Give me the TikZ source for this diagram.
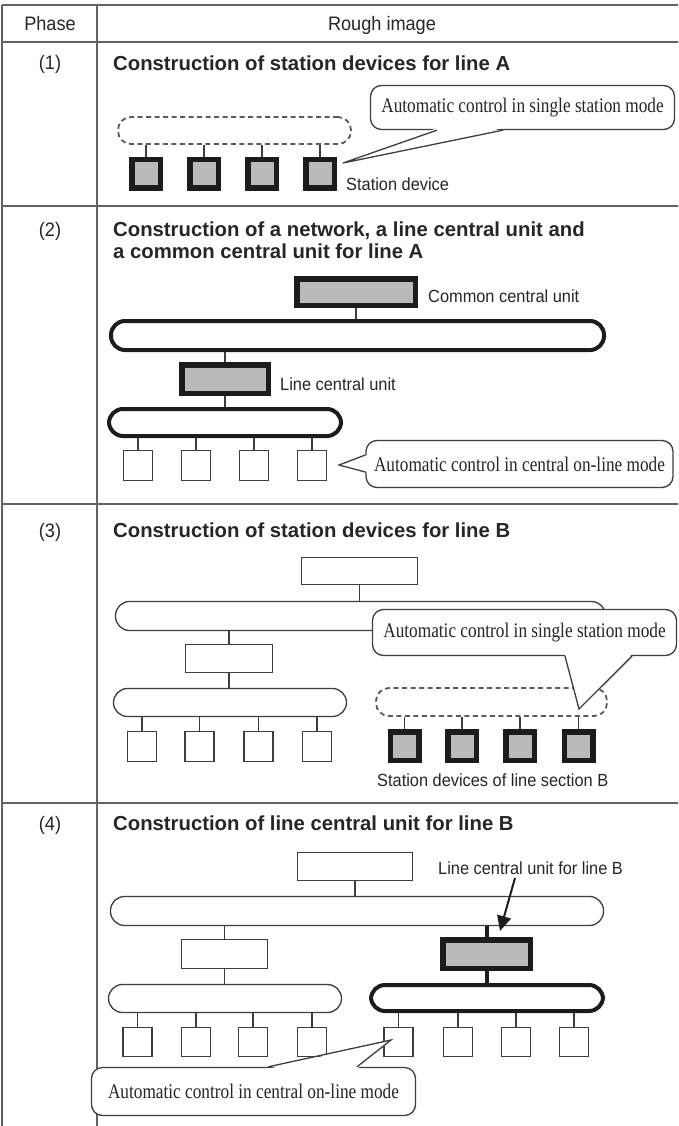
\documentclass[tikz,border=0pt]{standalone}
\usepackage{fontspec}
\setmainfont{Liberation Sans}
\newfontfamily\calloutfont[FakeStretch=0.83]{Liberation Serif}
\newfontfamily\narrowsans[FakeStretch=0.93]{Liberation Sans}
\usetikzlibrary{calc,arrows.meta,backgrounds}

\definecolor{rulegray}{HTML}{626262}
\definecolor{wiregray}{HTML}{3E3E3E}
\definecolor{heavy}{HTML}{1C1C1C}
\definecolor{unitfill}{HTML}{BABABA}
\definecolor{inkgray}{HTML}{262626}
\definecolor{dashgray}{HTML}{5A5A5A}

\tikzset{
  rule/.style={draw=rulegray, line width=1.8pt},
  wire/.style={draw=wiregray, line width=1.4pt},
  heavywire/.style={draw=heavy, line width=4pt},
  plainbox/.style={draw=wiregray, line width=1.3pt, fill=white, inner sep=0pt},
  thickunit/.style={draw=heavy, line width=5.5pt, fill=unitfill, inner sep=0pt},
  station/.style={thickunit, minimum width=28.5pt, minimum height=28.5pt},
  thinbus/.style={plainbox, rounded corners=14pt},
  heavybus/.style={draw=heavy, line width=4pt, fill=white, rounded corners=14pt, inner sep=0pt},
  dashbus/.style={draw=dashgray, line width=1.8pt, dash pattern=on 5pt off 3.5pt, rounded corners=13pt, inner sep=0pt},
  callout/.style={draw=wiregray, line width=1.3pt, fill=white, rounded corners=11pt, inner sep=0pt,
    font=\calloutfont\fontsize{20.8}{22}\selectfont, text=inkgray},
  headtext/.style={font=\narrowsans\fontsize{19.5}{21}\selectfont, text=inkgray, inner sep=0pt},
  titletext/.style={font=\bfseries\fontsize{20.3}{22}\selectfont, text=inkgray, inner sep=0pt, anchor=base west},
  lbltext/.style={font=\narrowsans\fontsize{17.6}{19}\selectfont, text=inkgray, inner sep=0pt, anchor=base west}
}

\begin{document}
\begin{tikzpicture}[x=1pt,y=-1pt]
\useasboundingbox (0,0) rectangle (678,1126);

% ---------- table frame ----------
\draw[rule] (2,5) -- (678,5);
\draw[rule] (2,42) -- (678,42);
\draw[rule] (2,206) -- (678,206);
\draw[rule] (2,504) -- (678,504);
\draw[rule] (2,803) -- (678,803);
\draw[rule] (2,5) -- (2,1126);
\draw[rule] (97,5) -- (97,1126);

\node[headtext, anchor=base] (hphase) at (50,31) {Phase};
\node[headtext, anchor=base] (himage) at (382,31) {Rough image};

\node[headtext, anchor=base] (p1) at (50,70) {(1)};
\node[headtext, anchor=base] (p2) at (50,236) {(2)};
\node[headtext, anchor=base] (p3) at (50,537) {(3)};
\node[headtext, anchor=base] (p4) at (50,830) {(4)};

\node[titletext] (t1) at (113,70.3) {Construction of station devices for line A};
\node[titletext] (t2a) at (113,236.3) {Construction of a network, a line central unit and};
\node[titletext] (t2b) at (113,258.3) {a common central unit for line A};
\node[titletext] (t3) at (113,537.3) {Construction of station devices for line B};
\node[titletext] (t4) at (113,830.3) {Construction of line central unit for line B};

% ---------- phase (1) ----------
\node[dashbus, minimum width=233pt, minimum height=27pt] (dbA) at (234.5,130.5) {};
\foreach \i/\x in {1/146,2/204,3/262,4/320}
  \node[station] (sa\i) at (\x,174) {};
\begin{scope}[on background layer]
  \foreach \i in {1,...,4}
    \draw[wire] (sa\i.north) -- (sa\i.north |- dbA.south);
\end{scope}
\node[lbltext] (lsa) at (346,190) {Station device};

\node[callout, minimum width=304pt, minimum height=44pt] (co1) at (522.5,107.5)
  {Automatic control in single station mode};
\coordinate (co1tip) at (343,163);
\coordinate (co1a) at ($(co1.south)+(-85.5,0)$);
\coordinate (co1b) at ($(co1.south)+(-19.5,0)$);
\fill[white] ($(co1a)+(0,-2)$) -- (co1tip) -- ($(co1b)+(0,-2)$) -- cycle;
\draw[wire, line width=1.3pt, line join=miter] (co1a) -- (co1tip) -- (co1b);

% ---------- phase (2) ----------
\node[thickunit, minimum width=118.5pt, minimum height=26.5pt] (cu2) at (356,292) {};
\node[heavybus, minimum width=493pt, minimum height=29pt] (bus2) at (357.5,335.5) {};
\node[thickunit, minimum width=86.5pt, minimum height=28.5pt] (lcu2) at (225,379) {};
\node[heavybus, minimum width=232pt, minimum height=27pt] (sbus2) at (225,422.5) {};
\foreach \i/\x in {1/138,2/196,3/254,4/312}
  \node[plainbox, minimum width=28.7pt, minimum height=29.7pt] (b2\i) at (\x,465.5) {};
\begin{scope}[on background layer]
  \draw[wire] (cu2.south) -- (cu2.south |- bus2.north);
  \draw[wire] (lcu2.north) -- (lcu2.north |- bus2.south);
  \draw[wire] (lcu2.south) -- (lcu2.south |- sbus2.north);
  \foreach \i in {1,...,4}
    \draw[wire] (b2\i.north) -- (b2\i.north |- sbus2.south);
\end{scope}
\node[lbltext] (lcu2t) at (428,302) {Common central unit};
\node[lbltext] (llc2t) at (280,390) {Line central unit};

\node[callout, minimum width=307pt, minimum height=47pt] (co2) at (519.5,464)
  {Automatic control in central on-line mode};
\coordinate (co2tip) at (339,465);
\coordinate (co2a) at ($(co2.west)+(0,-9)$);
\coordinate (co2b) at ($(co2.west)+(0,8)$);
\fill[white] ($(co2a)+(2,0)$) -- (co2tip) -- ($(co2b)+(2,0)$) -- cycle;
\draw[wire, line width=1.3pt, line join=miter] (co2a) -- (co2tip) -- (co2b);

% ---------- phase (3) ----------
\node[plainbox, minimum width=116pt, minimum height=27pt] (cu3) at (359.5,571) {};
\node[thinbus, minimum width=490pt, minimum height=29pt] (bus3) at (360.5,616) {};
\node[plainbox, minimum width=87pt, minimum height=28pt] (lcu3) at (229,658.5) {};
\node[thinbus, minimum width=233pt, minimum height=28pt] (sbus3) at (230,702.5) {};
\foreach \i/\x in {1/142,2/199.5,3/258.5,4/317}
  \node[plainbox, minimum width=29pt, minimum height=30pt] (b3\i) at (\x,746.5) {};
\node[dashbus, minimum width=231pt, minimum height=28pt] (dbB) at (491.5,702) {};
\foreach \i/\x in {1/404.5,2/462,3/520,4/578.5}
  \node[station] (sb\i) at (\x,746) {};
\begin{scope}[on background layer]
  \draw[wire] (cu3.south) -- (cu3.south |- bus3.north);
  \draw[wire] (lcu3.north) -- (lcu3.north |- bus3.south);
  \draw[wire] (lcu3.south) -- (lcu3.south |- sbus3.north);
  \foreach \i in {1,...,4}
    \draw[wire] (b3\i.north) -- (b3\i.north |- sbus3.south);
  \foreach \i in {1,...,4}
    \draw[wire] (sb\i.north) -- (sb\i.north |- dbB.south);
\end{scope}
\node[lbltext] (lsb) at (377,786) {Station devices of line section B};

\node[callout, minimum width=304pt, minimum height=46pt] (co3) at (524.5,632.5)
  {Automatic control in single station mode};
\coordinate (co3tip) at (579,709);
\coordinate (co3a) at ($(co3.south)+(40.5,0)$);
\coordinate (co3b) at ($(co3.south)+(107.5,0)$);
\fill[white] ($(co3a)+(0,-2)$) -- (co3tip) -- ($(co3b)+(0,-2)$) -- cycle;
\draw[wire, line width=1.3pt, line join=miter] (co3a) -- (co3tip) -- (co3b);

% ---------- phase (4) ----------
\node[plainbox, minimum width=115pt, minimum height=28pt] (cu4) at (355,866.5) {};
\node[thinbus, minimum width=493pt, minimum height=29pt] (bus4) at (357,911) {};
\node[plainbox, minimum width=86pt, minimum height=29pt] (lcu4) at (224.5,954) {};
\node[thinbus, minimum width=233pt, minimum height=28pt] (sbus4) at (225,998.5) {};
\foreach \i/\x in {1/137.5,2/196,3/253,4/312}
  \node[plainbox, minimum width=29pt, minimum height=29pt] (b4\i) at (\x,1042) {};
\node[thickunit, minimum width=87.5pt, minimum height=28.5pt] (lcuB) at (486.5,954) {};
\node[heavybus, minimum width=232pt, minimum height=26pt] (sbusB) at (487,998) {};
\foreach \i/\x in {5/398.5,6/458,7/516,8/574}
  \node[plainbox, minimum width=29pt, minimum height=29pt] (b4\i) at (\x,1042) {};
\begin{scope}[on background layer]
  \draw[wire] (cu4.south) -- (cu4.south |- bus4.north);
  \draw[wire] (lcu4.north) -- (lcu4.north |- bus4.south);
  \draw[wire] (lcu4.south) -- (lcu4.south |- sbus4.north);
  \foreach \i in {1,...,4}
    \draw[wire] (b4\i.north) -- (b4\i.north |- sbus4.south);
  \foreach \i in {5,...,8}
    \draw[wire] (b4\i.north) -- (b4\i.north |- sbusB.south);
  \draw[heavywire] (lcuB.north) -- (lcuB.north |- bus4.south);
  \draw[heavywire] (lcuB.south) -- (lcuB.south |- sbusB.north);
\end{scope}
\node[lbltext] (llcB) at (438,874) {Line central unit for line B};
\coordinate (arrA) at (515,878);
\coordinate (arrB) at (500,931);
\draw[draw=heavy, line width=2pt, -{Triangle[length=15pt,width=14pt]}] (arrA) -- (arrB);

\node[callout, minimum width=324pt, minimum height=48pt] (co4) at (253.5,1091.5)
  {Automatic control in central on-line mode};
\coordinate (co4tip) at (391,1040);
\coordinate (co4a) at ($(co4.north)+(14.5,0)$);
\coordinate (co4b) at ($(co4.north)+(103.5,0)$);
\fill[white] ($(co4a)+(0,2)$) -- (co4tip) -- ($(co4b)+(0,2)$) -- cycle;
\draw[wire, line width=1.3pt, line join=miter] (co4a) -- (co4tip) -- (co4b);

\end{tikzpicture}
\end{document}
